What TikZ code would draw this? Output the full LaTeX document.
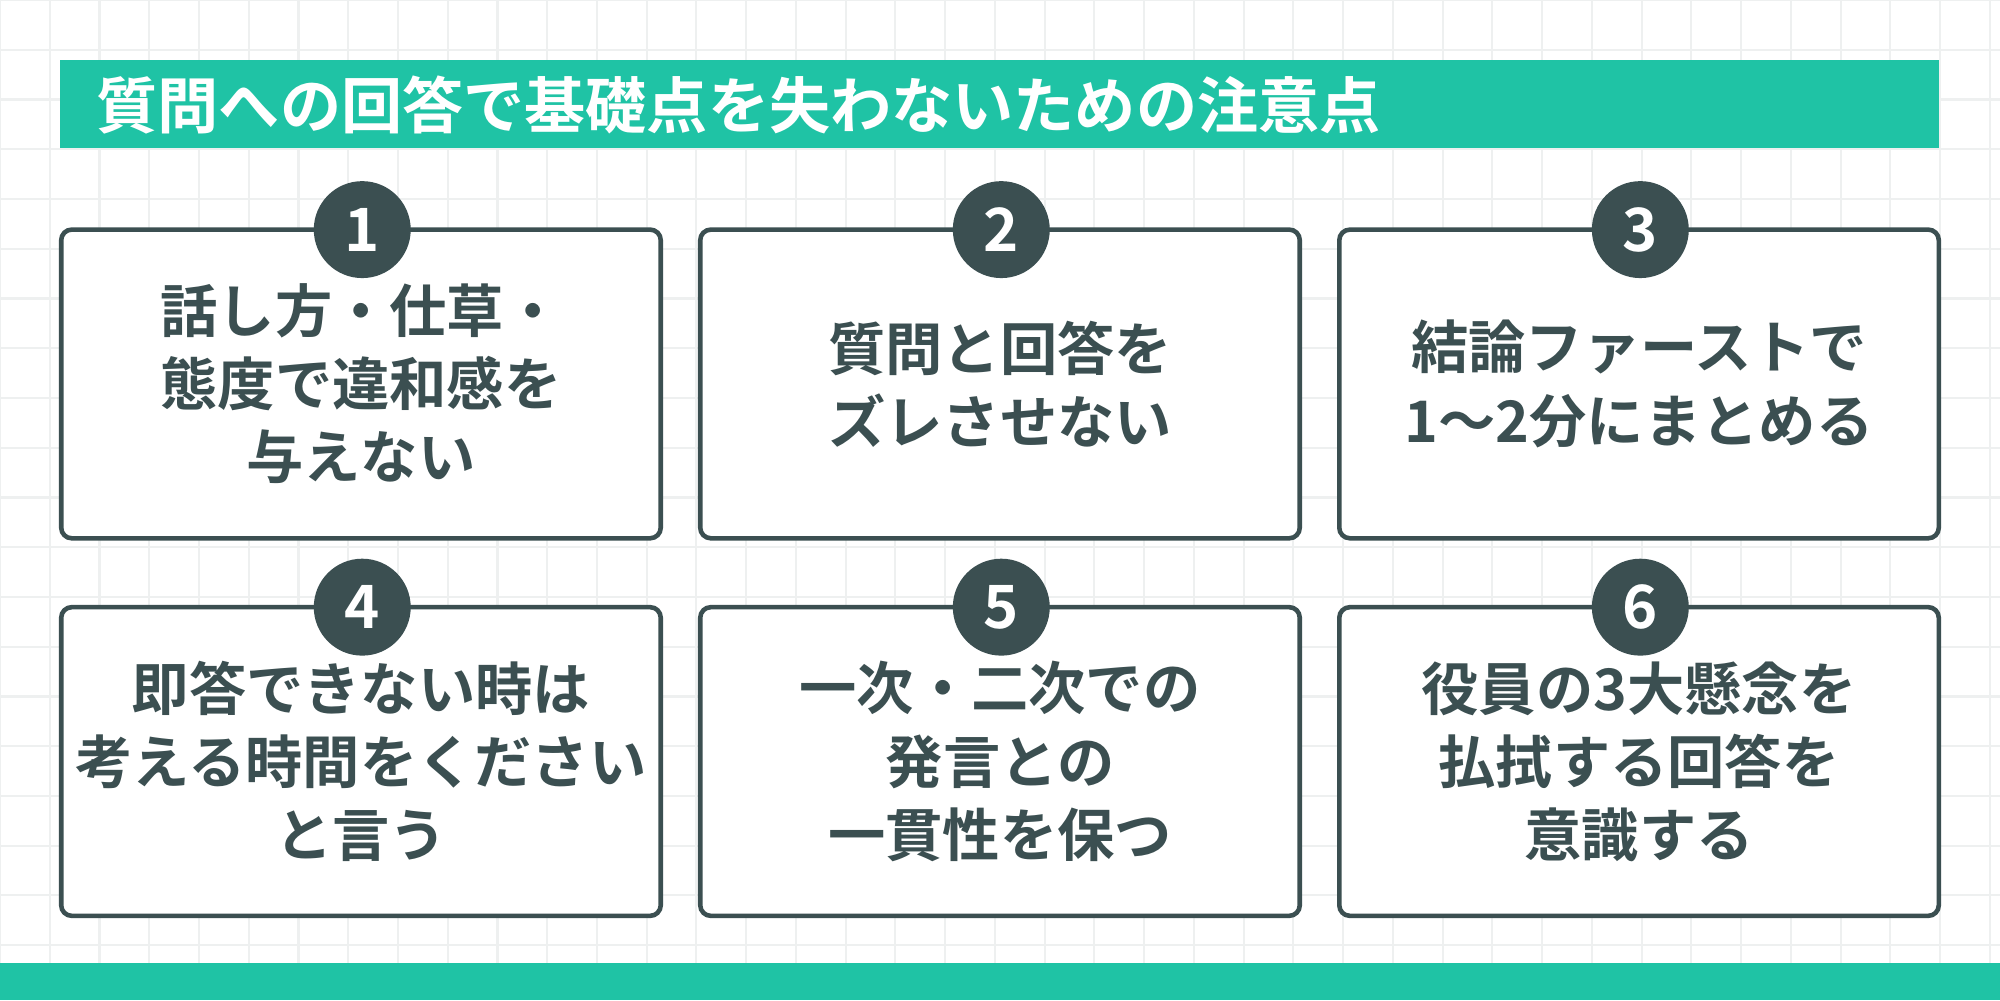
\documentclass[tikz,border=0pt]{standalone}
\usepackage{fontspec}
\setmainfont{Noto Sans CJK JP}[BoldFont={Noto Sans CJK JP Bold}]
\definecolor{teal}{HTML}{1FC3A5}
\definecolor{dark}{HTML}{3B4F51}
\definecolor{gridc}{HTML}{EEF0F0}
\begin{document}
\begin{tikzpicture}[x=0.012755cm,y=-0.012755cm,
  card/.style={draw=dark,line width=1.3pt,fill=white,rounded corners=3pt},
  num/.style={circle,fill=dark,minimum size=2*38*0.012755cm,inner sep=0pt,text=white,font=\bfseries\fontsize{17}{20}\selectfont},
  txt/.style={align=center,text=dark,font=\bfseries\fontsize{16.3}{20.8}\selectfont}]
\useasboundingbox (0,0) rectangle (1568,784);
\fill[white] (0,0) rectangle (1568,784);
\foreach \i in {0,...,40} {\draw[gridc,line width=0.6pt] (\i*39,0) -- (\i*39,784);}
\foreach \j in {0,...,20} {\draw[gridc,line width=0.6pt] (0,\j*39) -- (1568,\j*39);}
\fill[teal] (47,47) rectangle (1520,116);
\node[anchor=west,text=white,font=\bfseries\fontsize{17.4}{20}\selectfont] (title) at (66,82) {質問への回答で基礎点を失わないための注意点};
\fill[teal] (0,755) rectangle (1568,784);
\foreach \n/\x/\y/\t in {
  1/48/180/{話し方・仕草・\\態度で違和感を\\与えない},
  2/549/180/{質問と回答を\\ズレさせない},
  3/1050/180/{結論ファーストで\\1〜2分にまとめる},
  4/48/476/{即答できない時は\\考える時間をください\\と言う},
  5/549/476/{一次・二次での\\発言との\\一貫性を保つ},
  6/1050/476/{役員の3大懸念を\\払拭する回答を\\意識する}} {
  \draw[card] (\x,\y) rectangle ++(470,242);
  \node[txt] (t\n) at (\x+235,\y+121) {\t};
  \node[num] (c\n) at (\x+236,\y) {\n};
}
\end{tikzpicture}
\end{document}
